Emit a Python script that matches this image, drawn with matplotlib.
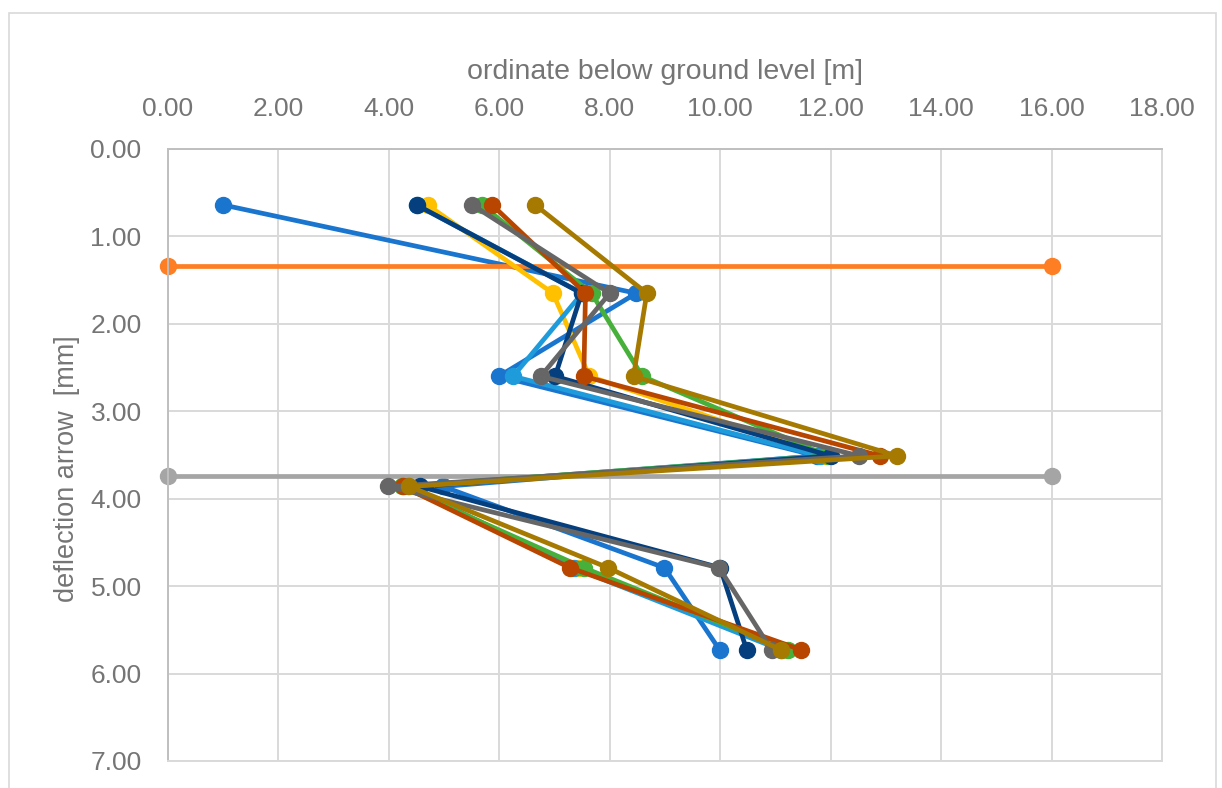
import matplotlib.pyplot as plt
from matplotlib.patches import Rectangle
from matplotlib.ticker import FormatStrFormatter

# depth rows shared by the profile series (y values)
depth = [0.64, 1.65, 2.60, 3.51, 3.86, 4.79, 5.73]

# profiles (x values), in series order
s1 = [1.00, 8.48, 5.99, 11.75, 4.98, 8.99, 9.99]
s4 = [4.70, 6.97, 7.63, 11.90, 4.30, 7.42, 11.15]
s5 = [4.50, 7.50, 6.25, 11.80, 4.35, 7.35, 11.10]
s6 = [5.68, 7.67, 8.59, 11.95, 4.23, 7.53, 11.22]
s7 = [4.50, 7.49, 7.01, 12.00, 4.56, 10.00, 10.48]
s8 = [5.87, 7.56, 7.53, 12.90, 4.25, 7.28, 11.47]
s9 = [5.51, 8.00, 6.75, 12.52, 3.99, 9.98, 10.93]
s10 = [6.65, 8.67, 8.43, 13.20, 4.37, 7.97, 11.10]

# the two horizontal reference lines
s2_x = [0, 16]
s2_y = [1.34, 1.34]
s3_x = [0, 16]
s3_y = [3.74, 3.74]

plt.rcParams['font.family'] = ['Liberation Sans', 'DejaVu Sans']

fig = plt.figure(figsize=(12.22, 7.88), dpi=100)
ax = fig.add_axes([168 / 1222, 1 - 761 / 788, (1162 - 168) / 1222, (761 - 149) / 788])

# outer chart border
fig.patches.append(Rectangle((9 / 1222, -0.01), (1216 - 9) / 1222, 1 - 13 / 788 + 0.01,
                             transform=fig.transFigure, fill=False,
                             edgecolor='#D9D9D9', linewidth=1.2))

lw = 3.4
ms = 11.5
ax.plot(s1, depth, '-o', color='#1A75CF', lw=lw, ms=ms)
ax.plot(s2_x, s2_y, '-o', color='#FD7E23', lw=lw, ms=ms)
ax.plot(s3_x, s3_y, '-o', color='#A5A5A5', lw=lw, ms=ms)
ax.plot(s4, depth, '-o', color='#FFC000', lw=lw, ms=ms)
ax.plot(s5, depth, '-o', color='#1E9BDA', lw=lw, ms=ms)
ax.plot(s6, depth, '-o', color='#47B03A', lw=lw, ms=ms)
ax.plot(s7, depth, '-o', color='#053F7E', lw=lw, ms=ms)
ax.plot(s8, depth, '-o', color='#B84600', lw=lw, ms=ms)
ax.plot(s9, depth, '-o', color='#666666', lw=lw, ms=ms)
ax.plot(s10, depth, '-o', color='#A67A00', lw=lw, ms=ms)

for l in ax.lines:
    l.set_clip_on(False)

ax.set_xlim(0, 18)
ax.set_ylim(7, 0)
ax.set_xticks(range(0, 19, 2))
ax.set_yticks(range(0, 8))
ax.xaxis.set_major_formatter(FormatStrFormatter('%.2f'))
ax.yaxis.set_major_formatter(FormatStrFormatter('%.2f'))
ax.xaxis.tick_top()
ax.tick_params(length=0, labelsize=19, labelcolor='#757575')
ax.tick_params(axis='x', pad=20)
ax.tick_params(axis='y', pad=19)

ax.grid(True, color='#D9D9D9', linewidth=1.4)
ax.set_axisbelow(True)
for side in ['left', 'top']:
    ax.spines[side].set_color('#BFBFBF')
    ax.spines[side].set_linewidth(1.4)
for side in ['right', 'bottom']:
    ax.spines[side].set_color('#D9D9D9')
    ax.spines[side].set_linewidth(1.4)

fig.text(665 / 1222, 1 - 72 / 788, 'ordinate below ground level [m]',
         ha='center', va='center', fontsize=20.5, color='#757575')
fig.text(67 / 1222, 1 - 469 / 788, 'deflection arrow  [mm]', rotation=90,
         ha='center', va='center', fontsize=19.5, color='#757575')

fig.savefig('out.png', dpi=100)
